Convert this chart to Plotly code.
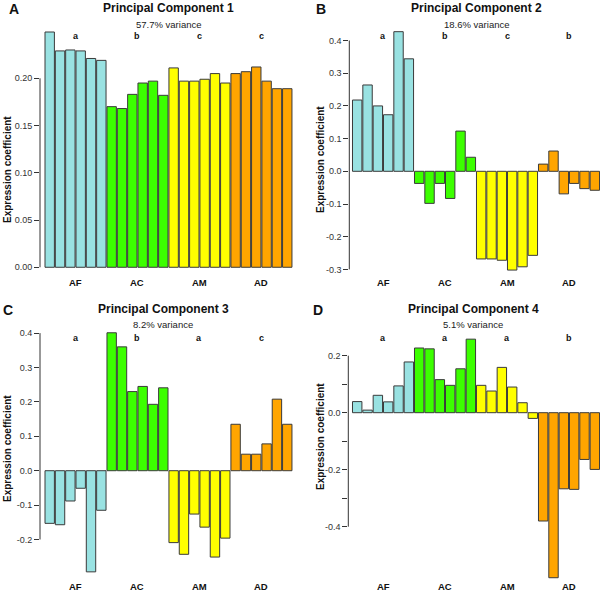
import plotly.graph_objects as go

groups = ["AF", "AC", "AM", "AD"]
group_colors = ["#99E2E2", "#3CFF00", "#FFFF00", "#FFA500"]
bars_per_group = 6

pc1 = [0.249, 0.229, 0.230, 0.229, 0.221, 0.219,
       0.170, 0.168, 0.183, 0.195, 0.197, 0.182,
       0.211, 0.197, 0.197, 0.199, 0.205, 0.195,
       0.205, 0.207, 0.212, 0.197, 0.189, 0.189]
pc2 = [0.218, 0.264, 0.200, 0.173, 0.427, 0.344,
       -0.037, -0.098, -0.037, -0.083, 0.123, 0.043,
       -0.268, -0.268, -0.272, -0.302, -0.292, -0.257,
       0.022, 0.062, -0.069, -0.037, -0.053, -0.058]
pc3 = [-0.153, -0.157, -0.088, -0.051, -0.294, -0.115,
       0.401, 0.360, 0.230, 0.245, 0.193, 0.241,
       -0.209, -0.243, -0.126, -0.164, -0.251, -0.196,
       0.135, 0.048, 0.048, 0.078, 0.208, 0.135]
pc4 = [0.039, 0.009, 0.061, 0.038, 0.094, 0.178,
       0.227, 0.224, 0.116, 0.096, 0.154, 0.258,
       0.096, 0.076, 0.159, 0.090, 0.035, -0.020,
       -0.380, -0.579, -0.267, -0.269, -0.164, -0.199]

titles = ["Principal Component 1", "Principal Component 2",
          "Principal Component 3", "Principal Component 4"]
variances = ["57.7% variance", "18.6% variance", "8.2% variance", "5.1% variance"]
panel_tags = ["A", "B", "C", "D"]
letters = [["a", "b", "c", "c"], ["a", "b", "c", "b"],
           ["a", "b", "a", "c"], ["a", "a", "a", "b"]]

ticks1 = [0.00, 0.05, 0.10, 0.15, 0.20]
ticklabels1 = ["0.00", "0.05", "0.10", "0.15", "0.20"]
ticks2 = [-0.3, -0.2, -0.1, 0.0, 0.1, 0.2, 0.3, 0.4]
ticklabels2 = ["-0.3", "-0.2", "-0.1", "0.0", "0.1", "0.2", "0.3", "0.4"]
ticks3 = [-0.2, -0.1, 0.0, 0.1, 0.2, 0.3, 0.4]
ticklabels3 = ["-0.2", "-0.1", "0.0", "0.1", "0.2", "0.3", "0.4"]
ticks4 = [-0.4, -0.3, -0.2, -0.1, 0.0, 0.1, 0.2]
ticklabels4 = ["-0.4", "", "-0.2", "", "0.0", "", "0.2"]

W, H = 600, 592
FONT = "Liberation Sans, Arial, Helvetica, sans-serif"

def px_x(p):
    return p / W

def px_y(p):
    return 1 - p / H

# panel layout (pixels)
panels = [
    dict(vals=pc1, xdom=(40, 298), xr=(-0.939, 24.04), ydom=(22, 277), yr=(-0.0103, 0.2596),
         ticks=ticks1, tl=ticklabels1, title_xy=(168.3, 7.8), var_y=24, tag_xy=(13.5, 9),
         let_y=36, cat_y=282, ylab_xy=(7, 170)),
    dict(vals=pc2, xdom=(349.3, 600), xr=(-0.765, 23.5), ydom=(22, 277), yr=(-0.3232, 0.4566),
         ticks=ticks2, tl=ticklabels2, title_xy=(476.2, 7.8), var_y=24, tag_xy=(321, 9),
         let_y=36, cat_y=282, ylab_xy=(320, 160)),
    dict(vals=pc3, xdom=(40, 298), xr=(-0.939, 24.04), ydom=(323, 581), yr=(-0.3206, 0.4294),
         ticks=ticks3, tl=ticklabels3, title_xy=(163.3, 308.5), var_y=324.3, tag_xy=(8, 310),
         let_y=338.3, cat_y=586, ylab_xy=(7, 449)),
    dict(vals=pc4, xdom=(348.3, 600), xr=(-0.862, 23.5), ydom=(323, 581), yr=(-0.5905, 0.3147),
         ticks=ticks4, tl=ticklabels4, title_xy=(473.3, 309), var_y=324.3, tag_xy=(317.5, 310),
         let_y=338.3, cat_y=586, ylab_xy=(320, 437)),
]

fig = go.Figure()
annotations = []
shapes = []
n = len(groups) * bars_per_group
colors = [group_colors[i // bars_per_group] for i in range(n)]
group_centers = [g * bars_per_group + (bars_per_group - 1) / 2 for g in range(len(groups))]

for k, p in enumerate(panels):
    sfx = "" if k == 0 else str(k + 1)
    xa, ya = "x" + sfx, "y" + sfx
    fig.add_trace(go.Bar(x=list(range(n)), y=p["vals"], xaxis=xa, yaxis=ya,
                         marker=dict(color=colors, line=dict(color="#3a3a3a", width=1)),
                         showlegend=False, hoverinfo="y"))
    fig.layout["xaxis" + sfx] = dict(domain=[px_x(p["xdom"][0]), px_x(p["xdom"][1])],
                                      range=list(p["xr"]), showticklabels=False, showgrid=False,
                                      zeroline=False, showline=False, ticks="", anchor=ya)
    fig.layout["yaxis" + sfx] = dict(domain=[px_y(p["ydom"][1]), px_y(p["ydom"][0])],
                                      range=list(p["yr"]), showgrid=False, zeroline=False,
                                      showline=False, ticks="outside", ticklen=5, tickwidth=1,
                                      tickcolor="#333", tickvals=p["ticks"], ticktext=p["tl"],
                                      tickfont=dict(family=FONT, size=9, color="#333"),
                                      anchor=xa)
    shapes.append(dict(type="line", xref=xa + " domain", yref=ya, x0=0, x1=0,
                       y0=min(p["ticks"]), y1=max(p["ticks"]),
                       line=dict(color="#333", width=1)))
    annotations.append(dict(text="<b>" + titles[k] + "</b>", xref="paper", yref="paper",
                            x=px_x(p["title_xy"][0]), y=px_y(p["title_xy"][1]),
                            xanchor="center", yanchor="middle", showarrow=False,
                            font=dict(family=FONT, size=12, color="#111")))
    annotations.append(dict(text=variances[k], xref="paper", yref="paper",
                            x=px_x(p["title_xy"][0]), y=px_y(p["var_y"]),
                            xanchor="center", yanchor="middle", showarrow=False,
                            font=dict(family=FONT, size=9.5, color="#222")))
    annotations.append(dict(text="<b>" + panel_tags[k] + "</b>", xref="paper", yref="paper",
                            x=px_x(p["tag_xy"][0]), y=px_y(p["tag_xy"][1]),
                            xanchor="center", yanchor="middle", showarrow=False,
                            font=dict(family=FONT, size=14, color="#111")))
    annotations.append(dict(text="<b>Expression coefficient</b>", xref="paper", yref="paper",
                            x=px_x(p["ylab_xy"][0]), y=px_y(p["ylab_xy"][1]), textangle=-90,
                            xanchor="center", yanchor="middle", showarrow=False,
                            font=dict(family=FONT, size=10, color="#111")))
    for g in range(len(groups)):
        annotations.append(dict(text="<b>" + letters[k][g] + "</b>", xref=xa, yref="paper",
                                x=group_centers[g], y=px_y(p["let_y"]),
                                xanchor="center", yanchor="middle", showarrow=False,
                                font=dict(family=FONT, size=9, color="#111")))
        annotations.append(dict(text="<b>" + groups[g] + "</b>", xref=xa, yref="paper",
                                x=group_centers[g], y=px_y(p["cat_y"]),
                                xanchor="center", yanchor="middle", showarrow=False,
                                font=dict(family=FONT, size=9.5, color="#111")))

fig.update_layout(width=W, height=H, autosize=False,
                  margin=dict(l=0, r=0, t=0, b=0, pad=0),
                  paper_bgcolor="white", plot_bgcolor="white",
                  bargap=0.09, annotations=annotations, shapes=shapes)

fig.write_html("out.html", config={"displayModeBar": False},
               post_script="document.body.style.margin='0';document.body.style.overflow='hidden';")
